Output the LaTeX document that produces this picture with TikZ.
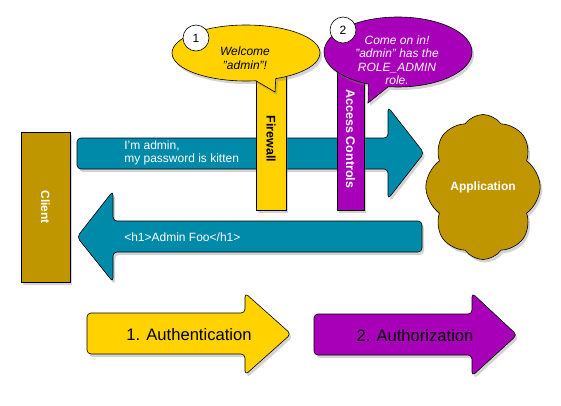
\documentclass[tikz,border=0pt]{standalone}
\usepackage{fontspec}
\setmainfont{Liberation Sans}
\usetikzlibrary{positioning,shapes.callouts,shapes.symbols,shadows}
\definecolor{flowblue}{RGB}{0,138,170}
\definecolor{fwyellow}{RGB}{255,210,0}
\definecolor{acpurple}{RGB}{168,0,184}
\definecolor{appolive}{RGB}{191,149,0}
\begin{document}
\begin{tikzpicture}[x=1pt,y=-1pt,line width=0.6pt,
                shade/.style={drop shadow={opacity=0.35,shadow xshift=2pt,shadow yshift=-3pt}},
                blockarrow/.style={draw=black,rounded corners=4pt,shade},
                bar/.style={draw=black,shade},
                bubble/.style={ellipse callout,draw=black,shade,callout pointer arc=16},
                badge/.style={circle,draw=black,fill=white,minimum size=26pt,inner sep=0pt,
                    font=\fontsize{12}{14}\selectfont},
                flowtext/.style={text=white,align=left,anchor=west,inner sep=0pt,
                    font=\fontsize{12}{13.5}\selectfont},
                bartext/.style={rotate=-90,font=\fontsize{12.5}{14}\selectfont\bfseries},
                saytext/.style={align=center,inner sep=0pt,
                    font=\fontsize{12}{13.5}\selectfont\itshape},
                steptext/.style={font=\fontsize{16.6}{18}\selectfont}]
            \useasboundingbox (0,0) rectangle (561,405);

            % request and response
            \draw [blockarrow,fill=flowblue] (77,138) -- (388,138) -- (388,107) -- (424,153)
                -- (388,199) -- (388,169) -- (77,169) -- cycle;
            \draw [blockarrow,fill=flowblue] (422,221) -- (113,221) -- (113,191) -- (77,237)
                -- (113,282) -- (113,252) -- (422,252) -- cycle;
            \node [flowtext] (request)  at (124,153) {I'm admin,\\my password is kitten};
            \node [flowtext] (response) at (124,237) {<h1>Admin Foo</h1>};

            % client and application
            \node [bar,fill=appolive,minimum width=49pt,minimum height=150pt] (client)
                at (45.5,207) {};
            \node [bartext,text=white,font=\fontsize{12}{14}\selectfont\bfseries] (clientlabel)
                at (client.center) {Client};
            \node [cloud,cloud puffs=8,cloud puff arc=110,draw=black,fill=appolive,shade,
                minimum width=107pt,minimum height=145pt,text=white,
                font=\fontsize{12}{14}\selectfont\bfseries] (app) at (483,187) {Application};

            % firewall and access controls
            \node [bar,fill=fwyellow,minimum width=30pt,minimum height=150pt] (firewall)
                at (271,135) {};
            \node [bartext] (fwlabel) at (271,139) {Firewall};
            \node [bar,fill=acpurple,minimum width=27pt,minimum height=150pt] (access)
                at (350.5,135) {};
            \node [bartext,text=white] (aclabel) at (350.5,139) {Access Controls};

            % speech bubbles
            \node [bubble,fill=fwyellow,minimum width=148pt,minimum height=56pt,
                callout absolute pointer={(275,92)}] (welcome) at (246,53) {};
            \node [saytext] (welcometext) at (245,58) {Welcome\\"admin"!};
            \node [badge] (one) at (196,38) {1};
            \node [bubble,fill=acpurple,minimum width=148pt,minimum height=70pt,
                callout absolute pointer={(368,103)}] (comein) at (398,52) {};
            \node [saytext,text=white] (comeintext) at (397,60)
                {Come on in!\\"admin" has the\\ROLE\_ADMIN\\role.};
            \node [badge] (two) at (343,30) {2};

            % the two steps
            \draw [blockarrow,fill=fwyellow] (87,313) -- (245,313) -- (245,293) -- (291,334)
                -- (245,375) -- (245,354) -- (87,354) -- cycle;
            \node [steptext] (authn) at (189,335) {1. Authentication};
            \draw [blockarrow,fill=acpurple] (314,314) -- (472,314) -- (472,293) -- (517,335)
                -- (472,376) -- (472,355) -- (314,355) -- cycle;
            \node [steptext] (authz) at (415,336) {2. Authorization};
        \end{tikzpicture}
\end{document}
